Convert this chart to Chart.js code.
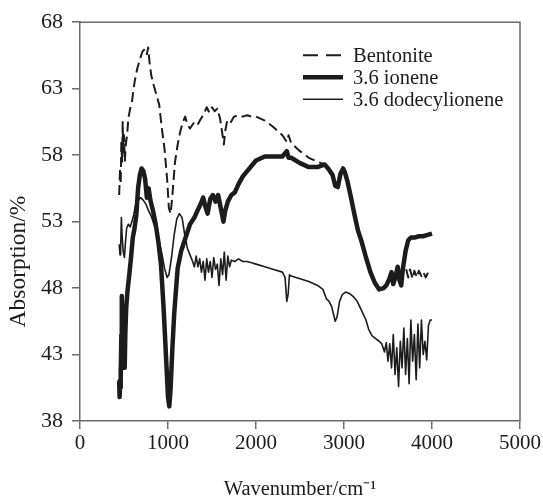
<!DOCTYPE html>
<html>
<head>
<meta charset="utf-8">
<script src="https://cdn.jsdelivr.net/npm/chart.js@4.4.1/dist/chart.umd.min.js"></script>
<style>
    html, body { margin: 0; padding: 0; background: #fff; }
    #wrap { width: 543px; height: 500px; }
</style>
</head>
<body>
<div id="wrap"><canvas id="chart" width="543" height="500"></canvas></div>
<script>
var series_labels = ["Bentonite", "3.6 ionene", "3.6 dodecylionene"];
var x_title = "Wavenumber/cm\u207B\u00B9";
var y_title = "Absorption/%";

var x_ticks = [0, 1000, 2000, 3000, 4000, 5000];
var y_ticks = [38, 43, 48, 53, 58, 63, 68];

var bentonite_x = [445, 455, 462, 470, 478, 485, 492, 500, 510, 520, 535, 550, 570, 590, 620, 650, 680, 710, 740, 760,
    775, 790, 810, 840, 870, 900, 930, 960, 990, 1010, 1030, 1050, 1080, 1110, 1140, 1170, 1195, 1220, 1250, 1290,
    1330, 1370, 1400, 1440, 1470, 1500, 1530, 1560, 1590, 1620, 1635, 1650, 1670, 1700, 1750, 1800, 1850, 1900, 1950, 2000,
    2100, 2200, 2300, 2350, 2370, 2400, 2500, 2600, 2700, 2780, 2820, 2870, 2900, 2930, 2960, 2990, 3010, 3040, 3080, 3120,
    3160, 3200, 3250, 3300, 3350, 3400, 3450, 3480, 3510, 3540, 3560, 3590, 3610, 3640, 3670, 3700, 3730, 3750, 3780, 3800,
    3830, 3850, 3880, 3900, 3930, 3950, 3980, 4000];
var bentonite_y = [55.0, 57.0, 55.8, 59.0, 57.5, 60.5, 58.0, 59.5, 57.5, 58.8, 59.5, 60.8, 61.5, 62.0, 63.5, 64.5, 65.2, 65.8, 66.0, 65.6,
    66.1, 65.0, 64.0, 63.2, 62.5, 61.8, 60.0, 58.5, 56.2, 54.0, 53.6, 55.0, 57.5, 58.8, 59.8, 60.5, 60.9, 60.3, 60.0, 60.4,
    60.2, 60.7, 61.0, 61.6, 61.2, 61.6, 61.3, 61.5, 60.8, 59.5, 58.8, 59.8, 60.5, 60.3, 60.9, 61.0, 60.9, 61.0, 60.9, 60.9,
    60.6, 60.1, 59.5, 59.0, 59.5, 58.9, 58.3, 57.8, 57.5, 57.3, 57.0, 56.5, 55.7, 55.6, 56.6, 57.0, 56.7, 56.0, 54.8, 53.5,
    52.3, 51.5, 50.3, 49.2, 48.4, 47.9, 48.0, 48.2, 48.6, 49.2, 48.3, 49.0, 49.6, 48.9, 49.4, 49.6, 48.8, 49.4, 48.7, 49.3,
    48.8, 49.3, 48.9, 49.2, 48.8, 49.1, 49.0, 49.1];

var ionene_x = [445, 450, 455, 460, 465, 470, 475, 480, 485, 492, 500, 508, 515, 525, 540, 560, 580, 600, 620, 640,
    660, 680, 700, 720, 740, 760, 780, 800, 830, 860, 890, 920, 950, 980, 1000, 1015, 1030, 1050, 1070, 1090,
    1110, 1150, 1200, 1250, 1300, 1340, 1370, 1400, 1430, 1450, 1480, 1510, 1540, 1570, 1600, 1630, 1650, 1680, 1720, 1760,
    1800, 1850, 1900, 1950, 2000, 2100, 2200, 2300, 2350, 2370, 2400, 2500, 2600, 2700, 2780, 2820, 2870, 2900, 2930, 2960,
    2990, 3010, 3040, 3080, 3120, 3160, 3200, 3250, 3300, 3350, 3400, 3450, 3480, 3510, 3540, 3560, 3590, 3610, 3630, 3650,
    3670, 3700, 3730, 3760, 3800, 3850, 3900, 3950, 4000];
var ionene_y = [41.0, 39.8, 40.5, 42.0, 41.2, 44.5, 47.4, 45.0, 42.0, 42.5, 45.0, 42.0, 44.5, 46.5, 47.8, 49.0, 50.3, 51.8, 52.5, 53.5,
    55.5, 56.5, 57.0, 56.8, 56.2, 54.8, 55.5, 54.6, 53.8, 52.8, 51.5, 49.8, 46.5, 42.5, 39.8, 39.1, 40.5, 43.5, 46.0, 47.8,
    49.5, 50.8, 51.8, 52.8, 53.3, 53.9, 54.3, 54.8, 54.0, 53.6, 54.7, 55.0, 54.5, 55.0, 54.0, 53.0, 53.8, 54.5, 55.0, 55.2,
    55.8, 56.4, 56.8, 57.2, 57.6, 57.9, 57.9, 57.9, 58.3, 57.8, 57.8, 57.4, 57.1, 57.1, 57.3, 57.0, 56.5, 55.7, 55.6, 56.6,
    57.0, 56.7, 56.0, 54.8, 53.5, 52.3, 51.5, 50.3, 49.2, 48.4, 47.9, 48.0, 48.2, 48.6, 49.2, 48.3, 49.0, 49.6, 48.6, 48.2,
    49.5, 50.8, 51.6, 51.8, 51.8, 51.9, 51.9, 52.0, 52.1];

var dodecyl_x = [445, 455, 462, 470, 478, 490, 505, 515, 530, 550, 570, 590, 610, 630, 660, 690, 720, 750, 780, 810,
    840, 870, 900, 930, 960, 990, 1010, 1040, 1070, 1100, 1130, 1160, 1190, 1220, 1250, 1280, 1300, 1320, 1340, 1360,
    1380, 1400, 1420, 1440, 1460, 1480, 1500, 1520, 1540, 1560, 1580, 1600, 1620, 1640, 1660, 1680, 1700, 1720, 1760, 1800,
    1850, 1900, 1950, 2000, 2100, 2200, 2300, 2330, 2350, 2365, 2380, 2400, 2500, 2600, 2700, 2760, 2800, 2830, 2860, 2900,
    2920, 2950, 2980, 3020, 3060, 3100, 3150, 3200, 3250, 3280, 3320, 3360, 3400, 3430, 3460, 3480, 3500, 3520, 3540, 3560,
    3580, 3600, 3620, 3640, 3660, 3680, 3700, 3720, 3740, 3760, 3780, 3800, 3820, 3840, 3860, 3880, 3900, 3920, 3940, 3960,
    3980, 4000];
var dodecyl_y = [51.3, 50.5, 51.0, 53.3, 52.0, 50.8, 50.3, 51.3, 52.5, 52.8, 52.6, 53.0, 53.5, 54.2, 54.6, 54.8, 54.6, 54.3, 53.8, 53.4,
    52.8, 52.3, 51.5, 50.6, 49.5, 48.8, 49.0, 50.3, 52.0, 53.2, 53.6, 53.3, 52.0, 51.0, 50.5, 50.0, 49.6, 50.4, 49.6, 50.2,
    49.2, 50.0, 48.6, 50.2, 49.2, 50.0, 48.8, 50.3, 49.4, 49.8, 48.2, 50.2, 49.0, 50.7, 48.6, 50.4, 49.6, 50.1, 50.0, 50.2,
    50.0, 50.0, 49.9, 49.8, 49.6, 49.4, 49.2, 48.8, 47.0, 47.5, 49.0, 48.9, 48.7, 48.5, 48.2, 47.9, 47.2, 47.0, 46.6, 45.5,
    45.8, 47.0, 47.5, 47.7, 47.6, 47.4, 47.0, 46.3, 45.6, 44.9, 44.4, 44.2, 44.0, 43.8, 43.2, 43.9, 42.5, 43.8, 42.0, 44.5,
    41.5, 43.5, 40.6, 44.0, 42.0, 45.0, 41.5, 44.2, 40.8, 45.6, 42.5, 44.5, 41.1, 45.3, 42.0, 45.6, 43.0, 44.0, 42.6, 45.2,
    45.6, 45.6];

var ink = "#1c1c1c";
var axis_color = "#6a6a6a";
var serif = "'Liberation Serif', 'Times New Roman', serif";

function to_points (xs, ys) {
    var points = [];

    for (var i = 0; i < xs.length; i++) {
        points.push({"x": xs[i], "y": ys[i]});
    }

    return points;
}

// Top and right edges of the frame, plus the y title (sits a bit below the axis middle in the original)
var frame_plugin = {
    "id": "frame",
    "afterDraw": function (chart) {
        var area = chart.chartArea;
        var ctx = chart.ctx;

        ctx.save();
        ctx.strokeStyle = axis_color;
        ctx.lineWidth = 1.5;
        ctx.beginPath();
        ctx.moveTo(area.left, area.top);
        ctx.lineTo(area.right, area.top);
        ctx.lineTo(area.right, area.bottom);
        ctx.stroke();

        ctx.translate(19, area.top + (area.bottom - area.top) * 0.6);
        ctx.rotate(-Math.PI / 2);
        ctx.font = "23.5px " + serif;
        ctx.fillStyle = ink;
        ctx.textAlign = "center";
        ctx.textBaseline = "middle";
        ctx.fillText(y_title, 0, 0);
        ctx.restore();
    }
};

// Legend inside the plot, top right
var legend_plugin = {
    "id": "inner_legend",
    "afterDraw": function (chart) {
        var area = chart.chartArea;
        var ctx = chart.ctx;
        var x0 = area.right - 217;
        var y0 = area.top + 33;
        var row = 22;

        ctx.save();
        ctx.font = "20.5px " + serif;
        ctx.textBaseline = "middle";
        ctx.fillStyle = ink;

        chart.data.datasets.forEach(function (ds, i) {
            var y = y0 + i * row;

            ctx.strokeStyle = ds.borderColor;
            ctx.lineWidth = ds.borderWidth;
            ctx.setLineDash(ds.borderDash ? [15, 8] : []);
            ctx.beginPath();
            ctx.moveTo(x0, y);
            ctx.lineTo(x0 + 40, y);
            ctx.stroke();

            ctx.fillText(ds.label, x0 + 50, y + 1);
        });

        ctx.restore();
    }
};

var config = {
    "type": "line",
    "data": {
        "datasets": [
            {
                "label": series_labels[0],
                "data": to_points(bentonite_x, bentonite_y),
                "borderColor": ink,
                "borderWidth": 2,
                "borderDash": [10, 5],
                "order": 2
            },
            {
                "label": series_labels[1],
                "data": to_points(ionene_x, ionene_y),
                "borderColor": ink,
                "borderWidth": 4.5,
                "order": 0
            },
            {
                "label": series_labels[2],
                "data": to_points(dodecyl_x, dodecyl_y),
                "borderColor": ink,
                "borderWidth": 1.6,
                "order": 1
            }
        ]
    },
    "options": {
        "responsive": false,
        "animation": false,
        "events": [],
        "layout": {
            "padding": {"top": 20, "right": 23, "left": 0, "bottom": 0}
        },
        "elements": {
            "point": {"radius": 0},
            "line": {"tension": 0, "fill": false, "borderJoinStyle": "round"}
        },
        "scales": {
            "x": {
                "type": "linear",
                "min": 0,
                "max": 5000,
                "afterBuildTicks": function (scale) {
                    scale.ticks = x_ticks.map(function (v) { return {"value": v}; });
                },
                "afterFit": function (scale) {
                    scale.height = 79;
                },
                "border": {"display": true, "color": axis_color, "width": 1.5},
                "grid": {"drawOnChartArea": false, "drawTicks": true, "tickLength": 8, "color": axis_color, "lineWidth": 1.5},
                "ticks": {
                    "color": ink,
                    "padding": 2,
                    "maxRotation": 0,
                    "font": {"family": serif, "size": 21},
                    "callback": function (value) { return String(value); }
                },
                "title": {
                    "display": true,
                    "text": x_title,
                    "color": ink,
                    "padding": {"top": 0, "bottom": 0},
                    "font": {"family": serif, "size": 20.5, "lineHeight": 1}
                }
            },
            "y": {
                "type": "linear",
                "min": 38,
                "max": 68,
                "afterBuildTicks": function (scale) {
                    scale.ticks = y_ticks.map(function (v) { return {"value": v}; });
                },
                "afterFit": function (scale) {
                    scale.width = 80;
                },
                "border": {"display": true, "color": axis_color, "width": 1.5},
                "grid": {"drawOnChartArea": false, "drawTicks": true, "tickLength": 8, "color": axis_color, "lineWidth": 1.5},
                "ticks": {
                    "color": ink,
                    "padding": 9,
                    "font": {"family": serif, "size": 22}
                },
                "title": {"display": false}
            }
        },
        "plugins": {
            "legend": {"display": false},
            "tooltip": {"enabled": false},
            "title": {"display": false}
        }
    },
    "plugins": [frame_plugin, legend_plugin]
};

new Chart(document.getElementById("chart").getContext("2d"), config);
</script>
</body>
</html>
